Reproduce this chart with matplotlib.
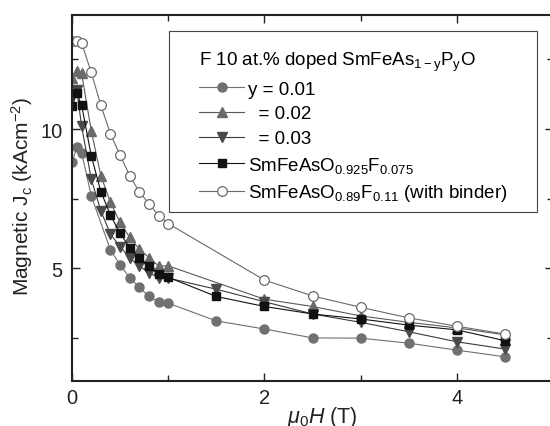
import matplotlib
matplotlib.use("Agg")
import matplotlib.pyplot as plt
from matplotlib.ticker import MultipleLocator
from matplotlib.patches import Rectangle

plt.rcParams['font.family'] = ['Liberation Sans', 'DejaVu Sans']
plt.rcParams['mathtext.fontset'] = 'custom'
plt.rcParams['mathtext.rm'] = 'Liberation Sans'
plt.rcParams['mathtext.it'] = 'Liberation Sans:italic'
plt.rcParams['mathtext.bf'] = 'Liberation Sans:bold'

# ---- data ----
h_y001 = [0, 0.05, 0.1, 0.2, 0.4, 0.5, 0.6, 0.7, 0.8, 0.9, 1.0, 1.5, 2, 2.5, 3, 3.5, 4, 4.5]
jc_y001 = [8.8, 9.35, 9.15, 7.6, 5.65, 5.12, 4.64, 4.31, 3.98, 3.79, 3.74, 3.10, 2.81, 2.49, 2.48, 2.30, 2.05, 1.81]

h_y002 = [0, 0.05, 0.1, 0.2, 0.3, 0.4, 0.5, 0.6, 0.7, 0.8, 0.9, 1.0, 2, 2.5, 3, 3.5, 4, 4.5]
jc_y002 = [11.85, 12.1, 12.0, 9.94, 8.32, 7.36, 6.64, 6.10, 5.68, 5.38, 5.08, 5.08, 3.88, 3.62, 3.28, 3.05, 2.85, 2.60]

h_y003 = [0, 0.05, 0.1, 0.2, 0.3, 0.4, 0.5, 0.6, 0.7, 0.8, 0.9, 1.0, 1.5, 2, 2.5, 3, 3.5, 4, 4.5]
jc_y003 = [11.2, 11.4, 10.1, 8.2, 7.06, 6.22, 5.77, 5.37, 5.07, 4.84, 4.64, 4.64, 4.24, 3.79, 3.35, 3.05, 2.71, 2.35, 2.09]

h_f075 = [0, 0.05, 0.1, 0.2, 0.3, 0.4, 0.5, 0.6, 0.7, 0.8, 0.9, 1.0, 1.5, 2, 2.5, 3, 3.5, 4, 4.5]
jc_f075 = [10.82, 11.28, 10.86, 9.04, 7.75, 6.9, 6.25, 5.74, 5.35, 5.06, 4.78, 4.67, 3.98, 3.62, 3.35, 3.17, 2.95, 2.78, 2.39]

h_f011 = [0, 0.05, 0.1, 0.2, 0.3, 0.4, 0.5, 0.6, 0.7, 0.8, 0.9, 1.0, 2, 2.5, 3, 3.5, 4, 4.5]
jc_f011 = [13.18, 13.18, 13.09, 12.04, 10.85, 9.82, 9.06, 8.32, 7.74, 7.32, 6.89, 6.60, 4.57, 4.0, 3.59, 3.21, 2.91, 2.63]

labels = ["y = 0.01", "  = 0.02", "  = 0.03",
          r"SmFeAsO$_{0.925}$F$_{0.075}$",
          r"SmFeAsO$_{0.89}$F$_{0.11}$ (with binder)"]
legend_title = r"F 10 at.% doped SmFeAs$_{\mathrm{1-y}}$P$_{\mathrm{y}}$O"

# ---- figure ----
W, H = 550, 427
fig = plt.figure(figsize=(W/100, H/100), dpi=100)
ax = fig.add_axes([72/W, 1-382/H, (553-72)/W, (382-16)/H])

lw = 0.8
ax.plot(h_y001, jc_y001, '-o', color='#707070', mfc='#707070', mec='#707070', ms=6.5, lw=lw, label=labels[0])
ax.plot(h_y002, jc_y002, '-^', color='#5a5a5a', mfc='#6a6a6a', mec='#6a6a6a', ms=7.5, lw=lw, label=labels[1])
ax.plot(h_y003, jc_y003, '-v', color='#3a3a3a', mfc='#4a4a4a', mec='#4a4a4a', ms=7.5, lw=lw, label=labels[2])
ax.plot(h_f075, jc_f075, '-s', color='#111111', mfc='#111111', mec='#111111', ms=6, lw=lw, label=labels[3])
ax.plot(h_f011, jc_f011, '-o', color='#6a6a6a', mfc='white', mec='#6a6a6a', ms=7, mew=0.9, lw=lw, label=labels[4])

ax.set_xlim(0, 5)
ax.set_ylim(0.94, 14.1)
ax.xaxis.set_major_locator(MultipleLocator(2))
ax.xaxis.set_minor_locator(MultipleLocator(1))
ax.yaxis.set_major_locator(MultipleLocator(5))
ax.yaxis.set_minor_locator(MultipleLocator(2.5))
ax.tick_params(which='both', direction='in', top=True, right=True, labelsize=14.5, colors='#222222')
ax.tick_params(axis='y', pad=7)
ax.tick_params(axis='x', pad=5)
ax.tick_params(which='major', length=6, width=1)
ax.tick_params(which='minor', length=4, width=1)
for s in ax.spines.values():
    s.set_linewidth(1.5)
    s.set_color('#222222')

ax.set_xlabel(r"$\mu_0H$ (T)", fontsize=15.5, color='#222222', va='top')
ax.xaxis.set_label_coords((322-72)/481, -(405-382)/366)
ax.set_ylabel(r"Magnetic J$_{\rm c}$ (kAcm$^{-2}$)", fontsize=15, color='#222222')
ax.yaxis.set_label_coords((35-72)/481, (382-197)/366)

# legend frame drawn separately
frame = Rectangle((169/W, 1-213/H), (537-169)/W, (213-31.7)/H,
                  transform=fig.transFigure, fill=True, facecolor='white',
                  edgecolor='#444444', linewidth=0.8, zorder=4, clip_on=False)
ax.add_patch(frame)

leg = ax.legend(loc='upper left', bbox_to_anchor=(199/W, 1-51/H), bbox_transform=fig.transFigure,
                borderaxespad=0, borderpad=0, title=legend_title, title_fontsize=13.5, fontsize=13.5,
                frameon=False, handlelength=2.4, handletextpad=0.2, labelspacing=0.4)
leg._legend_box.align = "left"
leg.set_zorder(6)

fig.savefig("out.png", dpi=100)
